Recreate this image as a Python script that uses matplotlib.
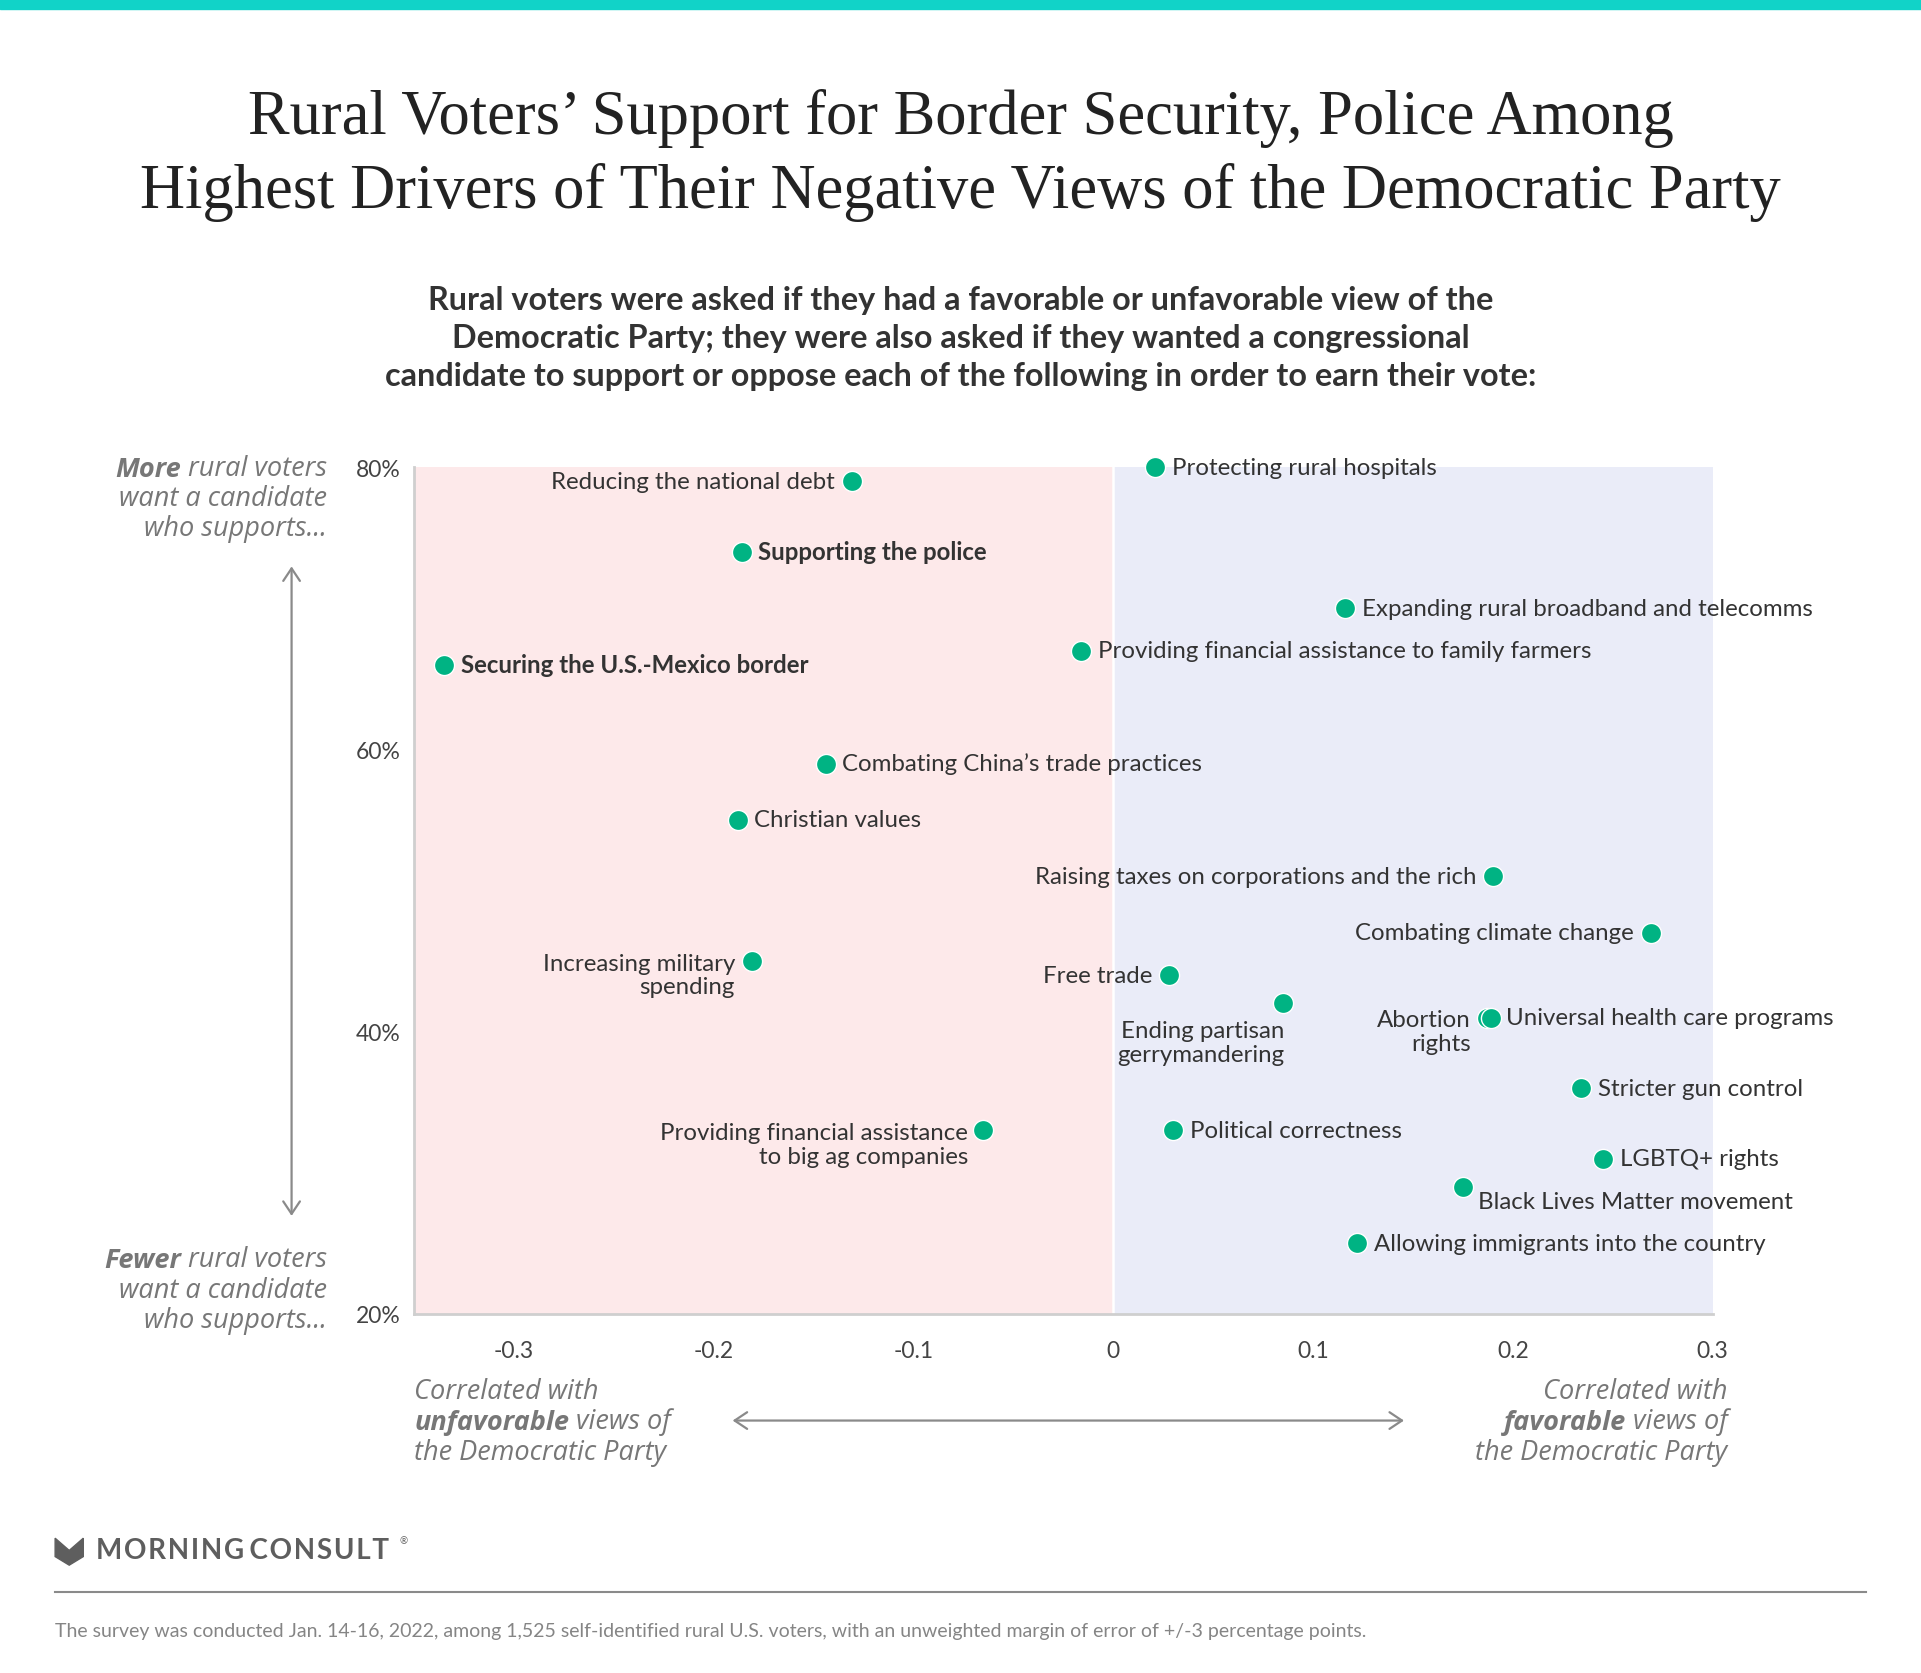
import matplotlib
matplotlib.use("Agg")
import matplotlib.pyplot as plt
from matplotlib.patches import Polygon, Rectangle, FancyArrowPatch

plt.rcParams['font.family'] = ['Lato', 'DejaVu Sans']

# issues, correlation with favorable view of Dems, share wanting candidate to support
items = [
    "Reducing the national debt",
    "Supporting the police",
    "Securing the U.S.-Mexico border",
    "Protecting rural hospitals",
    "Expanding rural broadband and telecomms",
    "Providing financial assistance to family farmers",
    "Combating China\u2019s trade practices",
    "Christian values",
    "Raising taxes on corporations and the rich",
    "Combating climate change",
    "Increasing military\nspending",
    "Free trade",
    "Ending partisan\ngerrymandering",
    "Abortion\nrights",
    "Universal health care programs",
    "Stricter gun control",
    "Providing financial assistance\nto big ag companies",
    "Political correctness",
    "LGBTQ+ rights",
    "Black Lives Matter movement",
    "Allowing immigrants into the country",
]
correlation = [-0.131, -0.186, -0.335, 0.021, 0.116, -0.016, -0.144, -0.188, 0.190, 0.269,
               -0.181, 0.028, 0.085, 0.187, 0.189, 0.234, -0.065, 0.030, 0.245, 0.175, 0.122]
support = [79, 74, 66, 80, 70, 67, 59, 55, 51, 47, 45, 44, 42, 41, 41, 36, 33, 33, 31, 29, 25]
bold_items = ["Supporting the police", "Securing the U.S.-Mexico border"]

x_ticks = [-0.3, -0.2, -0.1, 0, 0.1, 0.2, 0.3]
x_tick_labels = ["-0.3", "-0.2", "-0.1", "0", "0.1", "0.2", "0.3"]
y_ticks = [20, 40, 60, 80]

# label placement (points offset, alignment)
place = {
    "Reducing the national debt": (-12, 0, 'right'),
    "Raising taxes on corporations and the rich": (-12, 0, 'right'),
    "Combating climate change": (-12, 0, 'right'),
    "Free trade": (-12, 0, 'right'),
    "Increasing military\nspending": (-12, -10, 'right'),
    "Ending partisan\ngerrymandering": (1, -28, 'right'),
    "Abortion\nrights": (-11.5, -10, 'right'),
    "Universal health care programs": (10.5, 0, 'left'),
    "Providing financial assistance\nto big ag companies": (-11, -10, 'right'),
    "Black Lives Matter movement": (11, -10.5, 'left'),
}

W, H = 1568, 1366  # layout grid of the reference


def fx(x):
    return x / W


def fy(y):
    return 1 - y / H


DARK = '#333333'
GREY = '#777777'
NOTE = dict(fontsize=19.5, style='italic', color=GREY, family=['Open Sans', 'DejaVu Sans'])
LBL = 17.3

fig = plt.figure(figsize=(19.21, 16.74), dpi=100)

# top teal bar
fig.patches.append(Rectangle((0, fy(8)), 1, fy(0) - fy(8), transform=fig.transFigure,
                             color='#11d3c8', zorder=0))

# title
fig.text(0.5, fy(97), "Rural Voters\u2019 Support for Border Security, Police Among",
         ha='center', va='center', fontsize=45, family=['Liberation Serif'], color='#222222')
fig.text(0.5, fy(157), "Highest Drivers of Their Negative Views of the Democratic Party",
         ha='center', va='center', fontsize=45, family=['Liberation Serif'], color='#222222')

# subtitle
subtitle = ["Rural voters were asked if they had a favorable or unfavorable view of the",
            "Democratic Party; they were also asked if they wanted a congressional",
            "candidate to support or oppose each of the following in order to earn their vote:"]
for i, line in enumerate(subtitle):
    fig.text(fx(784), fy(245 + 31 * i), line, ha='center', va='center', fontsize=23.3,
             fontweight='bold', color=DARK)

# main axes
ax = fig.add_axes([fx(338), fy(1073), fx(1398) - fx(338), fy(382) - fy(1073)])
ax.set_xlim(-0.35, 0.3)
ax.set_ylim(20, 80)
ax.axvspan(-0.35, 0, color='#fde9ea', zorder=0, lw=0)
ax.axvspan(0, 0.3, color='#eaecf8', zorder=0, lw=0)
ax.axvline(0, color='white', lw=1.8, zorder=1)
ax.set_facecolor('none')
for s in ['top', 'right']:
    ax.spines[s].set_visible(False)
for s in ['left', 'bottom']:
    ax.spines[s].set_color('#cfcfcf')
    ax.spines[s].set_linewidth(2)

ax.set_xticks(x_ticks)
ax.set_xticklabels(x_tick_labels)
ax.set_yticks(y_ticks)
ax.set_yticklabels([f"{v}%" for v in y_ticks])
ax.tick_params(axis='both', length=0, labelsize=16.5, labelcolor='#444444')
ax.tick_params(axis='x', pad=19)
ax.tick_params(axis='y', pad=10)

ax.scatter(correlation, support, s=210, color='#00b383', edgecolor='white', linewidth=1,
           zorder=3, clip_on=False)

for name, x, y in zip(items, correlation, support):
    dx, dy, ha = place.get(name, (12, 0, 'left'))
    ax.annotate(name, (x, y), xytext=(dx, dy), textcoords='offset points',
                ha=ha, va='center', fontsize=LBL, color=DARK, linespacing=1.15,
                fontweight='bold' if name in bold_items else 'normal',
                annotation_clip=False, zorder=4)


def note_lines(x, ys, lines, align):
    for y, line in zip(ys, lines):
        fig.text(fx(x), fy(y), line, ha=align, va='bottom', **NOTE)


# "More / Fewer rural voters ..."
for lead, y0 in [("More", 394), ("Fewer", 1040)]:
    t = fig.text(fx(267), fy(y0), " rural voters", ha='right', va='bottom', **NOTE)
    ax.annotate(lead, xy=(0, 0), xycoords=t, ha='right', va='bottom', fontweight='bold',
                annotation_clip=False, **NOTE)
    note_lines(267, [y0 + 24.5, y0 + 49], ["want a candidate", "who supports..."], 'right')

# bottom notes
fig.text(fx(338), fy(1147), "Correlated with", ha='left', va='bottom', **NOTE)
t = fig.text(fx(338), fy(1172), "unfavorable", ha='left', va='bottom', fontweight='bold', **NOTE)
ax.annotate(" views of", xy=(1, 0), xycoords=t, ha='left', va='bottom',
            annotation_clip=False, **NOTE)
fig.text(fx(338), fy(1197), "the Democratic Party", ha='left', va='bottom', **NOTE)

fig.text(fx(1410), fy(1147), "Correlated with", ha='right', va='bottom', **NOTE)
t = fig.text(fx(1410), fy(1172), " views of", ha='right', va='bottom', **NOTE)
ax.annotate("favorable", xy=(0, 0), xycoords=t, ha='right', va='bottom', fontweight='bold',
            annotation_clip=False, **NOTE)
fig.text(fx(1410), fy(1197), "the Democratic Party", ha='right', va='bottom', **NOTE)

# arrows
arrow = dict(arrowstyle='<->,head_length=0.45,head_width=0.3', color='#8a8a8a', lw=1.6,
             mutation_scale=20, shrinkA=0, shrinkB=0)
fig.add_artist(FancyArrowPatch((fx(238), fy(463)), (fx(238), fy(993)),
                               transform=fig.transFigure, **arrow))
fig.add_artist(FancyArrowPatch((fx(598), fy(1160)), (fx(1146), fy(1160)),
                               transform=fig.transFigure, **arrow))

# logo
logo = [(45, 1256), (56.5, 1266), (68, 1256), (68, 1271), (56.5, 1278), (45, 1271)]
fig.patches.append(Polygon([(fx(a), fy(b)) for a, b in logo], closed=True,
                           transform=fig.transFigure, color='#5e5e5e'))
fig.text(fx(78), fy(1266), "M O R N I N G   C O N S U L T".replace(" ", "\u200a"),
         ha='left', va='center', fontsize=20, fontweight='bold', color='#5e5e5e')
fig.text(fx(326), fy(1258), "\u00ae", ha='left', va='center', fontsize=7, color='#5e5e5e')

# rule and footnote
fig.add_artist(plt.Line2D([fx(45), fx(1523)], [fy(1300), fy(1300)], color='#8a8a8a', lw=1.5,
                          transform=fig.transFigure))
fig.text(fx(45), fy(1331), "The survey was conducted Jan. 14-16, 2022, among 1,525 self-identified "
         "rural U.S. voters, with an unweighted margin of error of +/-3 percentage points.",
         ha='left', va='center', fontsize=14, color='#858585')

fig.savefig("out.png", dpi=100)
